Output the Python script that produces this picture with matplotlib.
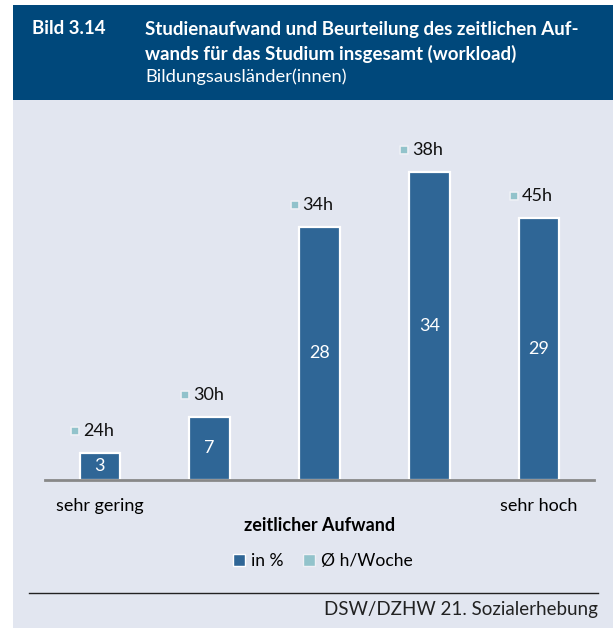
import matplotlib.pyplot as plt
from matplotlib.patches import Rectangle, Patch
from matplotlib.lines import Line2D
import matplotlib.transforms as mtransforms

plt.rcParams['font.family'] = ['Lato', 'DejaVu Sans']

# data
categories = ['sehr gering', '', '', '', 'sehr hoch']
share_pct = [3, 7, 28, 34, 29]
hours_week = ['24h', '30h', '34h', '38h', '45h']

bar_color = '#2f6696'
hour_color = '#92c3cb'
head_color = '#00487b'
bg_color = '#e2e6f0'

W, H = 613, 628
fig = plt.figure(figsize=(W / 100, H / 100), dpi=100)

def fx(px):
    return px / W

def fy(py):
    return 1 - py / H

# background + header band
fig.patches.append(Rectangle((fx(13), 0), fx(W - 13), fy(100), transform=fig.transFigure,
                             facecolor=bg_color, edgecolor='none', zorder=-10))
fig.patches.append(Rectangle((fx(13), fy(100)), fx(W - 13), fy(5) - fy(100),
                             transform=fig.transFigure, facecolor=head_color,
                             edgecolor='none', zorder=-10))

hs = 13.5
fig.text(fx(32), fy(29), 'Bild 3.14', color='white', fontsize=hs, fontweight='bold', va='center')
fig.text(fx(145), fy(29), 'Studienaufwand und Beurteilung des zeitlichen Auf-',
         color='white', fontsize=hs, fontweight='bold', va='center')
fig.text(fx(145), fy(54), 'wands für das Studium insgesamt (workload)',
         color='white', fontsize=hs, fontweight='bold', va='center')
fig.text(fx(145), fy(77), 'Bildungsausländer(innen)', color='white', fontsize=13.2, va='center')

# bar axes
ymax = 40
px_per = 9.05
ax_left, ax_right, base = 45, 594, 480
ax = fig.add_axes([fx(ax_left), fy(base), fx(ax_right - ax_left), (ymax * px_per) / H])
ax.set_facecolor('none')
x = list(range(len(share_pct)))
ax.bar(x, share_pct, width=0.37, color=bar_color, edgecolor='white', linewidth=1.6, zorder=3)
ax.set_xlim(-0.5, len(x) - 0.5)
ax.set_ylim(0, ymax)
for s in ['top', 'right', 'left']:
    ax.spines[s].set_visible(False)
ax.spines['bottom'].set_color('#888888')
ax.spines['bottom'].set_linewidth(2)
ax.spines['bottom'].set_zorder(4)
ax.set_yticks([])
ax.set_xticks(x)
fs = 13
ax.set_xticklabels(categories, fontsize=fs)
ax.tick_params(axis='x', length=0, pad=13)

for xi, v in zip(x, share_pct):
    ax.text(xi, v / 2, str(v), color='white', fontsize=fs, ha='center', va='center', zorder=5)

# hour markers above bars
mark_tr = mtransforms.offset_copy(ax.transData, fig=fig, x=-25, y=22, units='dots')
ax.scatter(x, share_pct, transform=mark_tr, marker='s', s=26, color=hour_color,
           edgecolor='#eef0f5', linewidth=1.2, clip_on=False, zorder=5)
for xi, v, h in zip(x, share_pct, hours_week):
    ax.annotate(h, (xi, v), xytext=(-17, 22), textcoords='offset pixels', fontsize=fs,
                ha='left', va='center', color='#111111', annotation_clip=False)

ax.set_xlabel('zeitlicher Aufwand', fontsize=fs, fontweight='bold', labelpad=2)

handles = [Patch(facecolor=bar_color, edgecolor='white', label='in %'),
           Patch(facecolor=hour_color, edgecolor='#eef0f5', label='Ø h/Woche')]
fig.legend(handles=handles, loc='center', bbox_to_anchor=(fx(323), fy(561)), ncol=2,
           frameon=False, fontsize=12.6, handlelength=0.7, handleheight=0.7,
           handletextpad=0.35, columnspacing=1.1)

fig.add_artist(Line2D([fx(29), fx(598)], [fy(593), fy(593)], color='#222222', linewidth=1))
fig.text(fx(598), fy(609), 'DSW/DZHW 21. Sozialerhebung', fontsize=13.5, ha='right',
         va='center', color='#222222')

fig.savefig('out.png', dpi=100, facecolor='white')
